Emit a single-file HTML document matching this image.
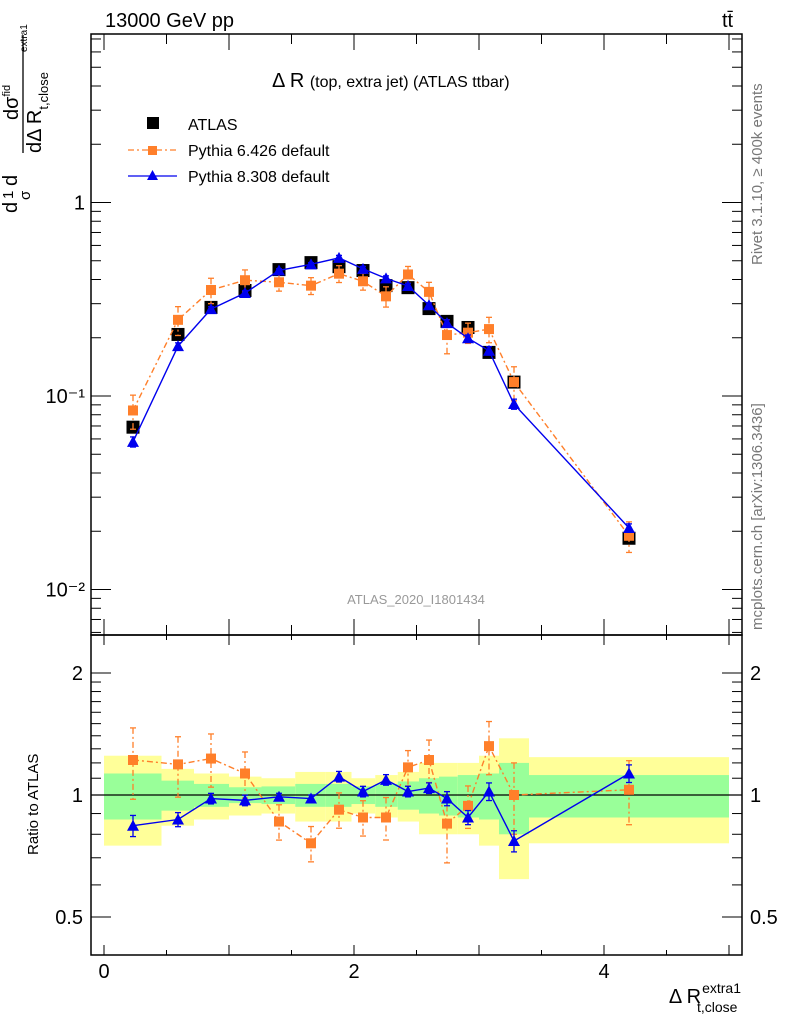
<!DOCTYPE html>
<html><head><meta charset="utf-8"><style>
body{margin:0;background:#fff;}
svg{display:block;font-family:"Liberation Sans",sans-serif;}
</style></head><body>
<svg id="c" width="786" height="1024" viewBox="0 0 786 1024">
<g id="bands"></g>
<g id="axes"></g>
<g id="series"></g>
<text x="105" y="27" font-size="20">13000 GeV pp</text>
<text x="722" y="27" font-size="20">tt̄</text>
<text x="272" y="87" font-size="20">Δ R <tspan font-size="16">(top, extra jet) (ATLAS ttbar)</tspan></text>
<g>
<rect x="147" y="117" width="12" height="12" fill="#000"/>
<text x="188" y="130" font-size="16">ATLAS</text>
<line x1="128" y1="150" x2="177" y2="150" stroke="#ff7f2a" stroke-width="1.3" stroke-dasharray="6,3,2,3"/>
<rect x="148" y="146" width="9" height="9" fill="#ff7f2a"/>
<text x="188" y="156" font-size="16">Pythia 6.426 default</text>
<line x1="128" y1="176" x2="177" y2="176" stroke="#0000ee" stroke-width="1.3"/>
<polygon points="152.5,170 158,180 147,180" fill="#0000ee"/>
<text x="188" y="182" font-size="16">Pythia 8.308 default</text>
</g>
<text x="416" y="604" font-size="13" fill="#999" text-anchor="middle">ATLAS_2020_I1801434</text>
<text transform="translate(762,265) rotate(-90)" font-size="15" fill="#777">Rivet 3.1.10, ≥ 400k events</text>
<text transform="translate(762,630) rotate(-90)" font-size="15" fill="#777">mcplots.cern.ch [arXiv:1306.3436]</text>
<g transform="translate(0,215) rotate(-90)">
<text x="2" y="17" font-size="20">d</text>
<text x="16" y="13" font-size="15">1</text>
<text x="15" y="30" font-size="15">σ</text>
<text x="29" y="17" font-size="20">d</text>
<line x1="62" y1="23" x2="180" y2="23" stroke="#000" stroke-width="1.3"/>
<text x="95" y="18" font-size="20">dσ<tspan font-size="11" dy="-8">fid</tspan></text>
<text x="62" y="41" font-size="20">dΔ R<tspan font-size="13" dy="7">t,close</tspan></text>
<text x="163" y="27" font-size="10">extra1</text>
</g>
<text transform="translate(38,855) rotate(-90)" font-size="15">Ratio to ATLAS</text>
<text x="741" y="1003" font-size="20" text-anchor="end">Δ R<tspan font-size="14" dx="1" dy="-10">extra1</tspan><tspan font-size="14" dx="-44" dy="19">t,close</tspan></text>
</svg>
<script>
const xCenters=[0.232,0.592,0.856,1.128,1.4,1.656,1.88,2.072,2.256,2.432,2.6,2.744,2.912,3.08,3.28,4.2];
const binEdges=[0,0.46,0.72,1.0,1.26,1.53,1.77,1.98,2.17,2.35,2.52,2.68,2.83,3.0,3.16,3.4,5.0];
const atlasVals=[0.069,0.208,0.287,0.351,0.45,0.489,0.466,0.445,0.372,0.363,0.283,0.243,0.226,0.168,0.118,0.0184];
const p6Ratio=[1.22,1.19,1.23,1.13,0.86,0.76,0.92,0.88,0.88,1.17,1.22,0.85,0.94,1.32,1.0,1.03];
const p8Ratio=[0.84,0.87,0.98,0.97,0.99,0.98,1.11,1.02,1.09,1.02,1.04,0.98,0.88,1.02,0.77,1.13];
const p6Err=[0.2,0.17,0.15,0.13,0.1,0.1,0.1,0.1,0.12,0.1,0.12,0.2,0.12,0.15,0.2,0.18];
const p8Err=[0.06,0.04,0.03,0.03,0.02,0.02,0.03,0.03,0.03,0.03,0.03,0.04,0.04,0.05,0.06,0.05];
const totErr=[0.25,0.16,0.13,0.11,0.1,0.14,0.14,0.1,0.12,0.14,0.2,0.2,0.2,0.25,0.38,0.24];
const statErr=[0.13,0.085,0.065,0.045,0.05,0.065,0.065,0.05,0.065,0.08,0.1,0.11,0.12,0.13,0.2,0.12];
const mainTicks=["10\u207B\u00B2","10\u207B\u00B9","1"];
const ratioTicks=[0.5,1,2];
const xTicks=[0,2,4];

const NS="http://www.w3.org/2000/svg";
const L=91,R=742,T=34,B=635,RB=955;
const X=v=>104+v*125;
const Y=v=>396-193.5*Math.log10(v)-193.5;
const YR=v=>795-122*Math.log2(v);
function mk(tag,attrs,parent){const e=document.createElementNS(NS,tag);for(const k in attrs)e.setAttribute(k,attrs[k]);parent.appendChild(e);return e;}
const axes=document.getElementById('axes'),bands=document.getElementById('bands'),ser=document.getElementById('series');

for(let i=0;i<xCenters.length;i++){
 const x0=X(binEdges[i]),x1=X(binEdges[i+1]);
 let r=mk('rect',{x:x0,y:YR(1+totErr[i]),width:x1-x0,height:YR(1-totErr[i])-YR(1+totErr[i]),fill:'#ffff99'},bands);
 
 
 r=mk('rect',{x:x0,y:YR(1+statErr[i]),width:x1-x0,height:YR(1-statErr[i])-YR(1+statErr[i]),fill:'#99ff99'},bands);
 
 
}
mk('rect',{x:L,y:T,width:R-L,height:B-T,fill:'none',stroke:'#000','stroke-width':1.5},axes);
mk('rect',{x:L,y:B,width:R-L,height:RB-B,fill:'none',stroke:'#000','stroke-width':1.5},axes);
mk('line',{x1:L,x2:R,y1:YR(1),y2:YR(1),stroke:'#000','stroke-width':1.2},axes);
for(let d=-3;d<=0;d++){for(let m=1;m<=9;m++){const v=m*Math.pow(10,d);const y=Y(v);if(y<T||y>B)continue;const len=m==1?20:10;
 mk('line',{x1:L,x2:L+len,y1:y,y2:y,stroke:'#000'},axes);mk('line',{x1:R,x2:R-len,y1:y,y2:y,stroke:'#000'},axes);}}
mainTicks.forEach((t,i)=>{const y=Y(Math.pow(10,i-2));const e=mk('text',{x:L-6,y:y+7,'font-size':20,'text-anchor':'end'},axes);e.textContent=t;
 
 });
for(let v=0.4;v<=2.5;v+=(v<2-1e-9?0.1:0.5)){const y=YR(v);if(y<B||y>RB)continue;const major=Math.abs(v-0.5)<1e-6||Math.abs(v-1)<1e-6||Math.abs(v-2)<1e-6;const len=major?20:10;
 mk('line',{x1:L,x2:L+len,y1:y,y2:y,stroke:'#000'},axes);mk('line',{x1:R,x2:R-len,y1:y,y2:y,stroke:'#000'},axes);}
ratioTicks.forEach(v=>{const y=YR(v);
 let e=mk('text',{x:L-8,y:y+7,'font-size':20,'text-anchor':'end'},axes);e.textContent=String(v);
 
 
 e=mk('text',{x:R+8,y:y+7,'font-size':20},axes);e.textContent=String(v);
 
 });
for(let v=0;v<=5;v+=0.5){const x=X(v);const maj=Number.isInteger(v);
 [[T,1,maj?16:10],[B,-1,maj?16:10],[B,1,maj?10:5],[RB,-1,maj?10:5]].forEach(([y0,s,len])=>mk('line',{x1:x,x2:x,y1:y0,y2:y0+s*len,stroke:'#000'},axes));}
xTicks.forEach(v=>{const e=mk('text',{x:X(v),y:RB+23,'font-size':20,'text-anchor':'middle'},axes);e.textContent=String(v);
 
 });

function poly(pts,color,dash,name){const e=mk('polyline',{points:pts.map(p=>p.join(',')).join(' '),fill:'none',stroke:color,'stroke-width':1.4},ser);if(dash)e.setAttribute('stroke-dasharray',dash);
 
 }
function err(x,y1,y2,color,dash){const e=mk('line',{x1:x,x2:x,y1:y1,y2:y2,stroke:color,'stroke-width':1.3},ser);if(dash)e.setAttribute('stroke-dasharray',dash);
 mk('line',{x1:x-3,x2:x+3,y1:y1,y2:y1,stroke:color,'stroke-width':1.3},ser);mk('line',{x1:x-3,x2:x+3,y1:y2,y2:y2,stroke:color,'stroke-width':1.3},ser);}
function sq(x,y,s,c,name){const e=mk('rect',{x:x-s/2,y:y-s/2,width:s,height:s,fill:c},ser);
 
 }
function tri(x,y,c,name){const e=mk('polygon',{points:`${x},${y-6} ${x+6},${y+5} ${x-6},${y+5}`,fill:c},ser);
 
 }
const O='#ff7f2a',Bl='#0000ee',D='6,3,2,3';
const p6=atlasVals.map((a,i)=>a*p6Ratio[i]), p8=atlasVals.map((a,i)=>a*p8Ratio[i]);
xCenters.forEach((x,i)=>sq(X(x),Y(atlasVals[i]),13,'#000','atlas-point'));
poly(xCenters.map((x,i)=>[X(x),Y(p6[i])]),O,D,'p6-line');
xCenters.forEach((x,i)=>{err(X(x),Y(p6[i]*(1+p6Err[i])),Y(p6[i]*(1-p6Err[i])),O,D);sq(X(x),Y(p6[i]),10,O,'p6-point');});
poly(xCenters.map((x,i)=>[X(x),Y(p8[i])]),Bl,null,'p8-line');
xCenters.forEach((x,i)=>{err(X(x),Y(p8[i]*(1+p8Err[i])),Y(p8[i]*(1-p8Err[i])),Bl);tri(X(x),Y(p8[i]),Bl,'p8-point');});
poly(xCenters.map((x,i)=>[X(x),YR(p6Ratio[i])]),O,D,'p6-ratio-line');
xCenters.forEach((x,i)=>{err(X(x),YR(p6Ratio[i]*(1+p6Err[i])),YR(p6Ratio[i]*(1-p6Err[i])),O,D);sq(X(x),YR(p6Ratio[i]),10,O,'p6-ratio-point');});
poly(xCenters.map((x,i)=>[X(x),YR(p8Ratio[i])]),Bl,null,'p8-ratio-line');
xCenters.forEach((x,i)=>{err(X(x),YR(p8Ratio[i]*(1+p8Err[i])),YR(p8Ratio[i]*(1-p8Err[i])),Bl);tri(X(x),YR(p8Ratio[i]),Bl,'p8-ratio-point');});
</script>
</body></html>
